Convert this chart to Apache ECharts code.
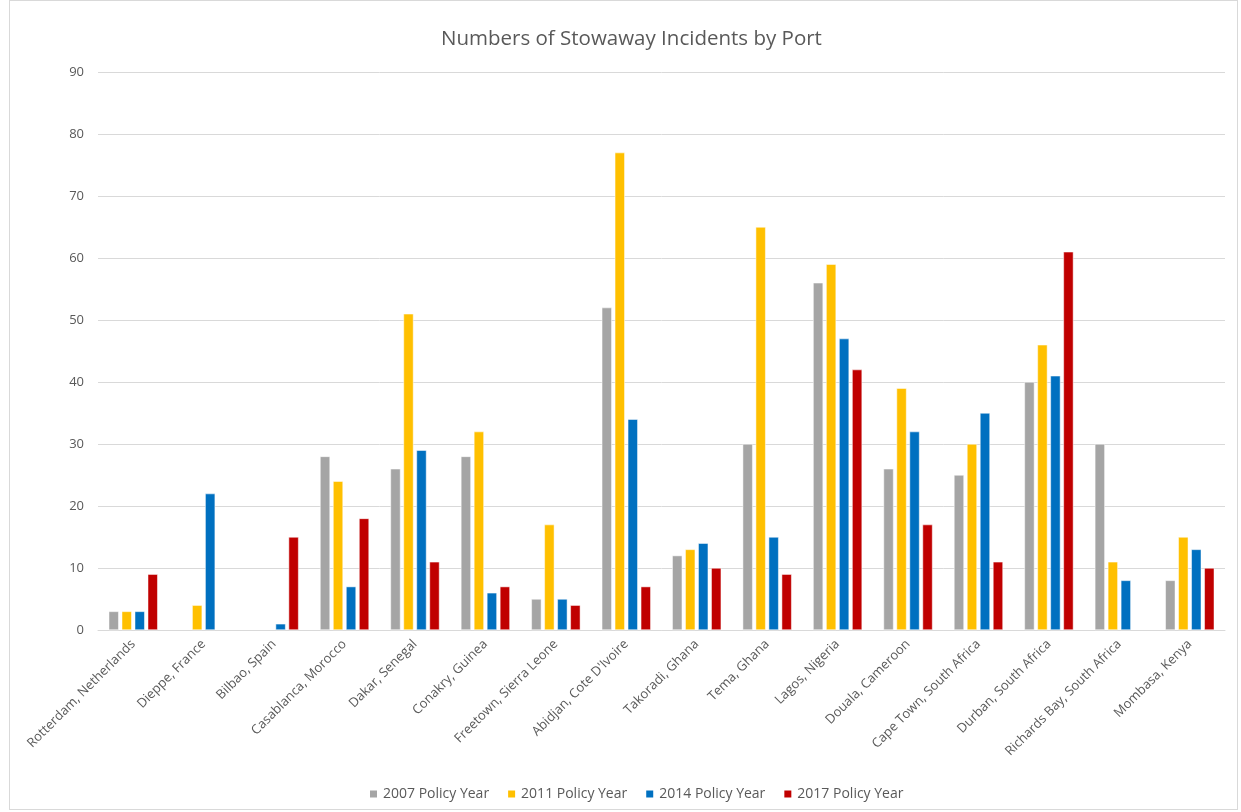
<!DOCTYPE html>
<html>
<head>
<meta charset="utf-8">
<script src="https://cdn.jsdelivr.net/npm/echarts@6/dist/echarts.min.js"></script>
<style>
  html, body { margin: 0; padding: 0; background: #fff; }
  #frame { position: absolute; left: 9px; top: 0; width: 1229px; height: 810px; border: 1px solid #d9d9d9; box-sizing: border-box; }
  #chart { width: 1241px; height: 812px; }
</style>
</head>
<body>
<div id="frame"></div>
<div id="chart"></div>
<script>
const ports = ['Rotterdam, Netherlands', 'Dieppe, France', 'Bilbao, Spain', 'Casablanca, Morocco', 'Dakar, Senegal',
  'Conakry, Guinea', 'Freetown, Sierra Leone', "Abidjan, Cote D'Ivoire", 'Takoradi, Ghana', 'Tema, Ghana',
  'Lagos, Nigeria', 'Douala, Cameroon', 'Cape Town, South Africa', 'Durban, South Africa',
  'Richards Bay, South Africa', 'Mombasa, Kenya']
const year2007 = [3, null, null, 28, 26, 28, 5, 52, 12, 30, 56, 26, 25, 40, 30, 8]
const year2011 = [3, 4, null, 24, 51, 32, 17, 77, 13, 65, 59, 39, 30, 46, 11, 15]
const year2014 = [3, 22, 1, 7, 29, 6, 5, 34, 14, 15, 47, 32, 35, 41, 8, 13]
const year2017 = [9, null, 15, 18, 11, 7, 4, 7, 10, 9, 42, 17, 11, 61, null, 10]

const font = 'Open Sans'
const textColor = '#595959'

function bar(name, data, color) {
  return {
    name: name,
    type: 'bar',
    data: data,
    barWidth: 10,
    barGap: '30%',
    itemStyle: { color: color, borderColor: '#fff', borderWidth: 0.5 }
  }
}

const chart = echarts.init(document.getElementById('chart'))
chart.setOption({
  animation: false,
  textStyle: { fontFamily: font },
  title: {
    text: 'Numbers of Stowaway Incidents by Port',
    left: 436,
    top: 24,
    textStyle: { color: textColor, fontFamily: font, fontSize: 20.5, fontWeight: 'normal' }
  },
  legend: {
    bottom: 6,
    left: 363,
    itemWidth: 9,
    itemHeight: 9,
    itemGap: 17,
    icon: 'rect',
    textStyle: { color: textColor, fontFamily: font, fontSize: 14 },
    data: ['2007 Policy Year', '2011 Policy Year', '2014 Policy Year', '2017 Policy Year']
  },
  grid: {
    left: 98,
    right: 16,
    top: 72,
    bottom: 182
  },
  xAxis: {
    type: 'category',
    data: ports,
    axisLine: { lineStyle: { color: '#d9d9d9', width: 1 } },
    axisTick: { show: false },
    axisLabel: {
      interval: 0,
      rotate: 45,
      color: textColor,
      fontFamily: font,
      fontSize: 13,
      margin: 12
    }
  },
  yAxis: {
    type: 'value',
    min: 0,
    max: 90,
    interval: 10,
    axisLine: { show: false },
    axisTick: { show: false },
    axisLabel: { color: textColor, fontFamily: font, fontSize: 13, margin: 14 },
    splitLine: { lineStyle: { color: '#d9d9d9', width: 1 } }
  },
  series: [
    bar('2007 Policy Year', year2007, '#a5a5a5'),
    bar('2011 Policy Year', year2011, '#ffc000'),
    bar('2014 Policy Year', year2014, '#0070c0'),
    bar('2017 Policy Year', year2017, '#c00000')
  ]
})
</script>
</body>
</html>
